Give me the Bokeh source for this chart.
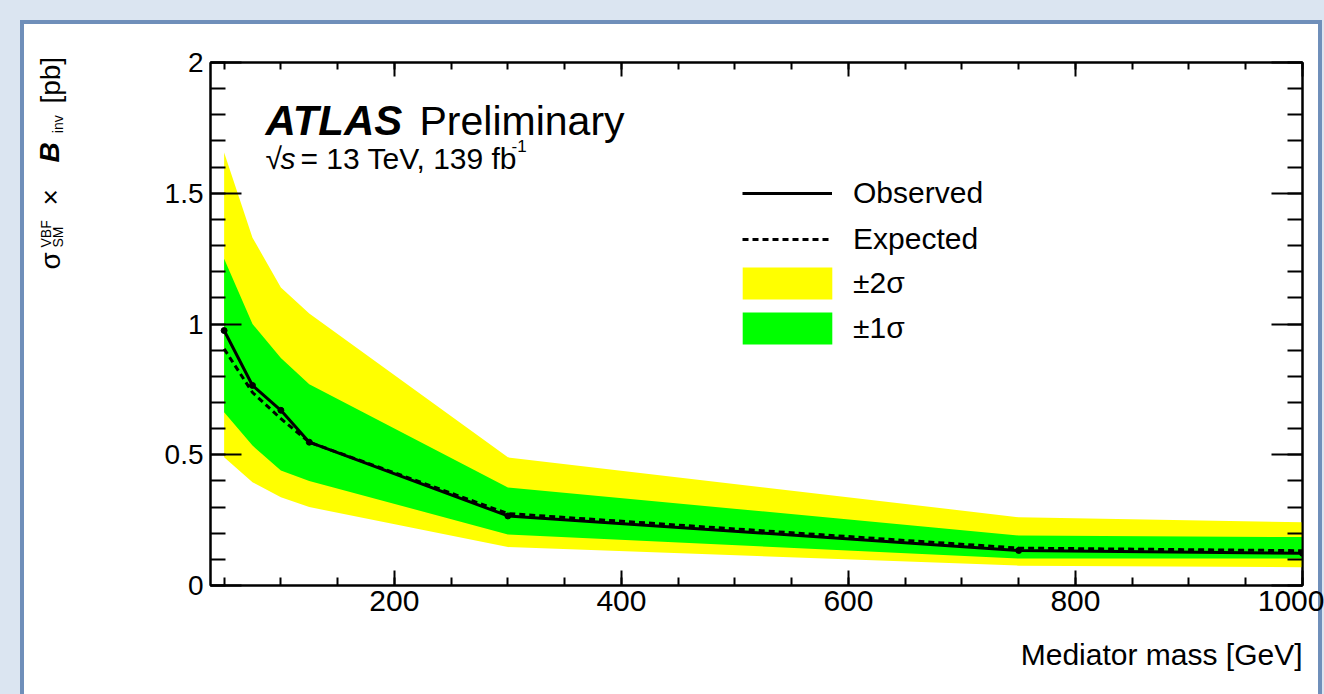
import math
from bokeh.plotting import figure
from bokeh.models import (Range1d, SingleIntervalTicker, LinearAxis, Label,
                          Legend, LegendItem, ColumnDataSource,
                          CustomJSTickFormatter, Title)
from bokeh.embed import file_html
from bokeh.resources import INLINE

# ---------------- data ----------------
mass = [50, 75, 100, 125, 300, 750, 1000]
observed = [0.975, 0.765, 0.670, 0.548, 0.266, 0.134, 0.123]
expected = [0.905, 0.738, 0.638, 0.548, 0.275, 0.143, 0.133]
plus2 = [1.656, 1.330, 1.140, 1.040, 0.490, 0.261, 0.242]
plus1 = [1.250, 1.000, 0.870, 0.770, 0.375, 0.191, 0.185]
minus1 = [0.663, 0.535, 0.440, 0.400, 0.195, 0.103, 0.103]
minus2 = [0.490, 0.395, 0.337, 0.300, 0.147, 0.076, 0.070]

y_ticks = [0, 0.5, 1, 1.5, 2]
y_tick_labels = ["0", "0.5", "1", "1.5", "2"]
legend_labels = ["Observed", "Expected", "±2σ", "±1σ"]
x_title = "Mediator mass [GeV]"
NB = "\u00a0"
y_title_main = "σ" + NB * 6 + "×" + NB * 11 + "[pb]"
y_title_sub = "SM" + NB * 24 + "inv"
y_title_sup = "VBF"
y_title_b = "B"

FONT = "Liberation Sans"
W, H = 1324, 694
# frame position on the canvas (px)
FL, FR, FT, FB = 210, 1302, 62, 585
X0, X1 = 38, 1000
Y0, Y1 = 0, 2
BLUE = "#dbe5f1"
BORDER = "#6f8fba"


def dx(px):
    return X0 + (px - FL) * (X1 - X0) / (FR - FL)


def dy(py):
    return Y0 + (FB - py) * (Y1 - Y0) / (FB - FT)


p = figure(width=W, height=H, output_backend="svg", toolbar_location=None,
           x_range=Range1d(X0, X1), y_range=Range1d(Y0, Y1),
           x_axis_location=None, y_axis_location=None,
           min_border_left=FL, min_border_right=W - FR,
           min_border_top=FT, min_border_bottom=H - FB)
p.xgrid.visible = False
p.ygrid.visible = False
p.border_fill_color = "white"
p.border_fill_alpha = 0.0
p.background_fill_color = "white"
p.outline_line_color = "black"
p.outline_line_width = 2
# slide look: light-blue strips and the blue-grey panel border
p.styles = {
    "background-color": "white",
    "box-shadow": ("inset 20px 20px 0 0 %s, inset -2px 0 0 0 %s, "
                   "inset 24px 24px 0 0 %s, inset -6px 0 0 0 %s")
                  % (BLUE, BLUE, BORDER, BORDER),
}

src = ColumnDataSource(dict(mass=mass, observed=observed, expected=expected,
                            plus2=plus2, plus1=plus1, minus1=minus1, minus2=minus2))

r2 = p.varea(x="mass", y1="minus2", y2="plus2", source=src, fill_color="#ffff00")
r1 = p.varea(x="mass", y1="minus1", y2="plus1", source=src, fill_color="#00ff00")
rexp = p.line(x="mass", y="expected", source=src, line_color="black",
              line_width=3, line_dash="6 4")
robs = p.line(x="mass", y="observed", source=src, line_color="black", line_width=3)
p.scatter(x="mass", y="observed", source=src, size=6, color="black")


def style_axis(ax, major_in, minor_in, labels, fs):
    ax.major_tick_in = major_in
    ax.major_tick_out = 0
    ax.minor_tick_in = minor_in
    ax.minor_tick_out = 0
    ax.axis_line_width = 2
    ax.major_tick_line_width = 2
    ax.minor_tick_line_width = 2
    ax.axis_line_color = "black"
    ax.major_tick_line_color = "black"
    ax.minor_tick_line_color = "black"
    if labels:
        ax.major_label_text_font = FONT
        ax.major_label_text_font_size = fs
        ax.major_label_text_color = "black"
    else:
        ax.formatter = CustomJSTickFormatter(code="return ''")


xb = LinearAxis(ticker=SingleIntervalTicker(interval=200, num_minor_ticks=4))
style_axis(xb, 15, 8, True, "30px")
xb.major_label_standoff = 5
p.add_layout(xb, "below")

xt = LinearAxis(ticker=SingleIntervalTicker(interval=200, num_minor_ticks=4))
style_axis(xt, 14, 7, False, "0px")
p.add_layout(xt, "above")

yl = LinearAxis(ticker=SingleIntervalTicker(interval=0.5, num_minor_ticks=5))
style_axis(yl, 31, 15, True, "28px")
yl.major_label_overrides = {v: s for v, s in zip(y_ticks, y_tick_labels)}
yl.major_label_standoff = 7
p.add_layout(yl, "left")

yr = LinearAxis(ticker=SingleIntervalTicker(interval=0.5, num_minor_ticks=5))
style_axis(yr, 31, 15, False, "0px")
p.add_layout(yr, "right")

# x-axis title, right aligned under the axis
p.add_layout(Title(text=x_title, align="right", text_font=FONT,
                   text_font_size="30px", text_font_style="normal",
                   text_color="black", standoff=45), "below")


# y-axis title built from titles stacked in the left panel
def ytitle(text, size, style, offset, standoff):
    t = Title(text=text, align="left", vertical_align="bottom", text_font=FONT,
              text_font_size=size, text_font_style=style, text_color="black",
              offset=offset)
    try:
        t.standoff = standoff
    except Exception:
        t.standoff = 0
    p.add_layout(t, "left")


ytitle(NB, "15px", "normal", 0, 77)                       # spacer
ytitle(y_title_sub, "14px", "normal", FB - 247, 0)        # subscripts
ytitle(y_title_main, "28px", "normal", FB - 269, -37)     # main text
ytitle(y_title_b, "28px", "bold italic", FB - 162, -34)   # B
ytitle(y_title_sup, "14px", "normal", FB - 247, -13)      # superscript

# legends: one for the lines, one for the bands (area swatches are inset by 10%)
common = dict(orientation="vertical", label_text_font=FONT,
              label_text_font_size="30px", label_text_color="black",
              padding=0, margin=0, border_line_alpha=0, background_fill_alpha=0)
leg_lines = Legend(items=[LegendItem(label=legend_labels[0], renderers=[robs]),
                          LegendItem(label=legend_labels[1], renderers=[rexp])],
                   location=(742 - FL, FB - 256),
                   glyph_width=90, glyph_height=34, label_height=34,
                   spacing=12, label_standoff=21, **common)
leg_bands = Legend(items=[LegendItem(label=legend_labels[2], renderers=[r2]),
                          LegendItem(label=legend_labels[3], renderers=[r1])],
                   location=(742 - 11 - FL, FB - 348),
                   glyph_width=112, glyph_height=40, label_height=40,
                   spacing=5, label_standoff=10, **common)
p.add_layout(leg_lines)
p.add_layout(leg_bands)


def lab(text, px, py, size, style="normal", align="left", angle=0.0):
    p.add_layout(Label(x=dx(px), y=dy(py), text=text, text_font=FONT,
                       text_font_size=size, text_font_style=style,
                       text_align=align, text_baseline="alphabetic",
                       angle=angle, text_color="black"))


# ATLAS label
lab("ATLAS", 265, 120, "42px", "bold italic")
lab("Preliminary", 419, 120, "41px")
lab("√", 265, 158, "30px")
lab("s", 280, 158, "30px", "italic")
lab("= 13 TeV, 139 fb", 300, 158, "30px")
lab("-1", 511, 145, "17px")

open("out.html", "w").write(file_html(p, INLINE))
